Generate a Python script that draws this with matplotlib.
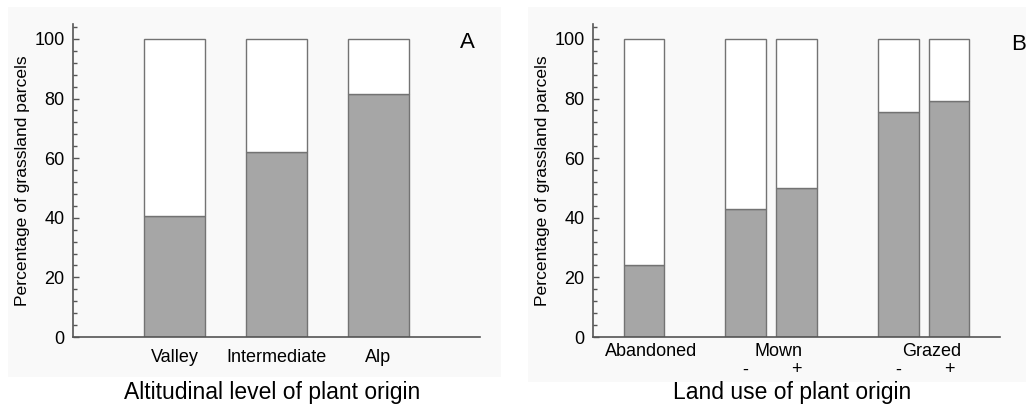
import matplotlib.pyplot as plt
from matplotlib.patches import Rectangle
from matplotlib.ticker import MultipleLocator
import matplotlib.transforms as mtransforms

plt.rcParams["font.family"] = ["Liberation Sans", "DejaVu Sans"]

# panel A: altitudinal level
ALT_LEVELS = ["Valley", "Intermediate", "Alp"]
ALT_VALUES = [40.6, 62.2, 81.5]

# panel B: land use (group, sign, value)
LAND_GROUPS = ["Abandoned", "Mown", "Grazed"]
LAND_SIGNS = ["", "-", "+", "-", "+"]
LAND_GROUP_OF_BAR = [0, 1, 1, 2, 2]
LAND_VALUES = [24.0, 42.8, 50.0, 75.4, 79.2]

GREY = "#a6a6a6"
EDGE = "#737373"
AXIS = "#555555"
BG = "#f9f9f9"

W, H = 1026, 405
AX_H = 313


def _fig_rect(fig, x0, y0, x1, y1):
    # pixel box (top-left origin) -> figure rectangle
    fig.patches.append(
        Rectangle(
            (x0 / W, 1 - y1 / H),
            (x1 - x0) / W,
            (y1 - y0) / H,
            transform=fig.transFigure,
            facecolor=BG,
            edgecolor="none",
            zorder=-10,
        )
    )


def _style(ax):
    ax.set_facecolor("none")
    ax.set_ylim(0, 105)
    ax.yaxis.set_major_locator(MultipleLocator(20))
    ax.yaxis.set_minor_locator(MultipleLocator(4))
    ax.tick_params(axis="y", which="major", direction="in", length=4, width=1, color=AXIS, labelsize=13, pad=6)
    ax.tick_params(axis="y", which="minor", direction="in", length=3, width=1, color=AXIS)
    ax.tick_params(axis="x", length=0, labelsize=13, pad=9)
    for side in ["top", "right"]:
        ax.spines[side].set_visible(False)
    for side in ["left", "bottom"]:
        ax.spines[side].set_color(AXIS)
        ax.spines[side].set_linewidth(1.2)
    ax.set_ylabel("Percentage of grassland parcels", fontsize=12.6, labelpad=3)


def _stacked(ax, xs, values, width):
    rest = [100 - v for v in values]
    ax.bar(xs, values, width=width, color=GREY, edgecolor=EDGE, linewidth=1)
    ax.bar(xs, rest, bottom=values, width=width, color="white", edgecolor=EDGE, linewidth=1)


def _xtitle(ax, text):
    ax.text(0.49, -56 / AX_H, text, transform=ax.transAxes, ha="center", va="center", fontsize=16.5)


fig = plt.figure(figsize=(W / 100, H / 100), dpi=100)
_fig_rect(fig, 8, 7, 501, 377)
_fig_rect(fig, 528, 7, 1026, 382)

ax_a = fig.add_axes([73 / W, 68 / H, 407 / W, AX_H / H])
ax_b = fig.add_axes([593 / W, 68 / H, 407 / W, AX_H / H])

# panel A
xs_a = list(range(1, len(ALT_LEVELS) + 1))
_stacked(ax_a, xs_a, ALT_VALUES, 0.6)
_style(ax_a)
ax_a.set_xlim(0, 4)
ax_a.set_xticks(xs_a)
ax_a.set_xticklabels(ALT_LEVELS)
_xtitle(ax_a, "Altitudinal level of plant origin")
ax_a.text(0.97, 0.94, "A", transform=ax_a.transAxes, fontsize=16, ha="center", va="center")

# panel B
xs_b = [1, 3, 4, 6, 7]
_stacked(ax_b, xs_b, LAND_VALUES, 0.8)
_style(ax_b)
ax_b.set_xlim(0, 8)
ax_b.set_xticks([])
trans = mtransforms.blended_transform_factory(ax_b.transData, ax_b.transAxes)
for gi, name in enumerate(LAND_GROUPS):
    members = [x for x, g in zip(xs_b, LAND_GROUP_OF_BAR) if g == gi]
    center = sum(members) / len(members) + 0.15
    ax_b.text(center, -14 / AX_H, name, transform=trans, ha="center", va="center", fontsize=13)
for x, sign in zip(xs_b, LAND_SIGNS):
    if sign:
        ax_b.text(x, -33 / AX_H, sign, transform=trans, ha="center", va="center", fontsize=13)
_xtitle(ax_b, "Land use of plant origin")
fig.text(1019 / W, 1 - 44 / H, "B", fontsize=16, ha="center", va="center")

fig.savefig("out.png", dpi=100)
